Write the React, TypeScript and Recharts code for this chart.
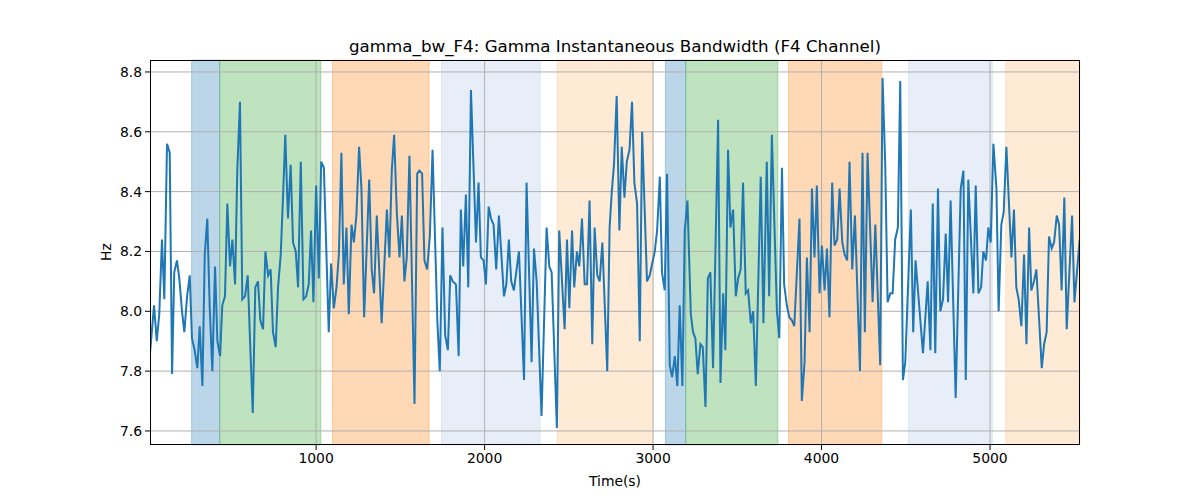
import React from "react";
import {
  LineChart,
  Line,
  XAxis,
  YAxis,
  ReferenceArea,
  ReferenceLine,
} from "recharts";

// sample times (s)
const times = [
  14, 38, 54, 69, 85, 99, 115, 131, 145, 158, 174, 188, 204, 218, 234, 250, 263, 279, 295, 309,
  325, 339, 354, 368, 384, 400, 414, 430, 443, 459, 473, 489, 503, 519, 532, 548, 562, 578, 594, 608,
  624, 639, 655, 669, 685, 699, 715, 730, 744, 760, 774, 790, 804, 817, 833, 849, 863, 879, 893,
  909, 925, 941, 956, 970, 984, 1000, 1016, 1030, 1046, 1075, 1089, 1105, 1121, 1135, 1150, 1164, 1180, 1194, 1210,
  1224, 1239, 1255, 1269, 1285, 1315, 1330, 1344, 1360, 1389, 1420, 1435, 1449, 1463, 1479, 1495, 1509, 1524, 1538, 1554,
  1584, 1600, 1613, 1629, 1643, 1659, 1675, 1691, 1720, 1734, 1750, 1766, 1782, 1796, 1811,
  1830, 1846, 1859, 1873, 1889, 1903, 1919, 1949, 1964, 1978, 1994, 2008, 2024, 2038, 2053, 2069, 2085, 2115, 2129, 2144,
  2158, 2174, 2190, 2204, 2234, 2249, 2279, 2293, 2309, 2338, 2368, 2384, 2398, 2429, 2443, 2475, 2489, 2503, 2519, 2532,
  2548, 2562, 2578, 2594, 2608, 2623, 2639, 2653, 2669, 2683, 2699, 2728, 2742,
  2755, 2768, 2784, 2800, 2814, 2830, 2844, 2860, 2875, 2889, 2905, 2921, 2935, 2964, 2980, 3010, 3024, 3040, 3053, 3069,
  3083, 3099, 3113, 3129, 3144, 3158, 3174, 3188, 3204, 3224, 3237, 3251, 3265, 3281, 3295, 3311, 3325, 3340, 3356, 3386,
  3400, 3416, 3429, 3445, 3459, 3475, 3491, 3505, 3520, 3534, 3550, 3564, 3580, 3594, 3610, 3639, 3655,
  3675, 3689, 3705, 3735, 3749, 3765, 3778, 3794, 3808, 3824, 3838, 3869, 3883, 3899, 3913, 3929, 3943, 3958, 3972, 3988,
  4002, 4018, 4032, 4047, 4063, 4077, 4093, 4107, 4123, 4137, 4152, 4166, 4182, 4198, 4228, 4243, 4257, 4273, 4303, 4319,
  4348, 4362, 4378, 4392, 4408, 4422, 4437, 4453, 4467, 4483, 4497, 4530, 4544, 4558,
  4602, 4630, 4646, 4660, 4675, 4691, 4705, 4721, 4737, 4751, 4766, 4796, 4826, 4842, 4856, 4871, 4901, 4915, 4931, 4947,
  4960, 4976, 4990, 5004, 5020, 5038, 5051, 5067, 5081, 5097, 5127, 5142, 5156, 5170, 5186, 5202, 5216, 5232, 5245, 5261,
  5275, 5307, 5321, 5336, 5350, 5366, 5380, 5396, 5410, 5425, 5441, 5455, 5487, 5501, 5532,
];

// gamma bandwidth (Hz)
const hz = [
  7.86, 8.02, 7.9, 7.99, 8.24, 8.04, 8.56, 8.53, 7.79, 8.13, 8.17, 8.11, 8.0, 7.93, 8.05, 8.12, 7.91, 7.87, 7.81, 7.95,
  7.75, 8.19, 8.31, 8.02, 7.8, 8.15, 7.9, 7.85, 8.02, 8.05, 8.36, 8.15, 8.24, 8.09, 8.47, 8.7, 8.04, 8.05, 8.12, 7.9,
  7.66, 8.08, 8.1, 7.97, 7.94, 8.2, 8.12, 8.14, 7.93, 7.88, 8.08, 8.19, 8.39, 8.59, 8.31, 8.49, 8.23, 8.2, 8.08,
  8.5, 8.04, 8.05, 8.09, 8.27, 8.03, 8.42, 8.11, 8.5, 8.48, 7.93, 8.16, 8.01, 8.08, 8.19, 8.53, 8.09, 8.28, 7.99, 8.29,
  8.23, 8.32, 8.55, 8.41, 7.98, 8.44, 8.14, 8.06, 8.32, 7.96, 8.34, 8.18, 8.47, 8.59, 8.33, 8.18, 8.32, 8.1, 8.18, 8.52,
  7.69, 8.46, 8.47, 8.46, 8.17, 8.14, 8.25, 8.54, 7.96, 7.8, 8.28, 7.92, 7.87, 8.12, 8.1,
  8.09, 7.85, 8.34, 8.15, 8.39, 8.08, 8.74, 8.23, 8.43, 8.18, 8.17, 8.09, 8.35, 8.31, 8.29, 8.14, 8.32, 8.05, 8.09, 8.24,
  8.1, 8.07, 8.14, 8.2, 7.77, 8.43, 7.83, 8.21, 8.1, 7.65, 8.28, 8.15, 8.13, 7.61, 8.27, 7.94, 8.24, 8.01, 8.27, 8.08,
  8.2, 8.15, 8.31, 8.09, 8.09, 8.37, 7.89, 8.28, 8.12, 8.1, 8.23, 7.8, 8.28,
  8.4, 8.49, 8.72, 8.27, 8.55, 8.38, 8.5, 8.54, 8.7, 8.43, 8.36, 7.9, 8.6, 8.1, 8.12, 8.2, 8.27, 8.45, 8.13, 8.07,
  8.46, 7.82, 7.78, 7.85, 7.75, 8.02, 7.75, 8.27, 8.37, 7.99, 7.93, 7.91, 7.79, 7.89, 7.88, 7.68, 8.11, 8.13, 7.81, 8.64,
  7.76, 8.06, 7.87, 8.54, 8.28, 8.34, 8.05, 8.11, 8.14, 8.43, 8.06, 8.07, 7.96, 8.0, 7.75, 8.45, 7.96,
  8.5, 8.05, 8.59, 8.0, 7.91, 8.48, 8.09, 8.02, 7.98, 7.97, 7.95, 8.31, 7.7, 7.83, 8.18, 7.93, 8.41, 8.18, 8.42, 8.06,
  8.22, 8.07, 8.21, 7.98, 8.43, 8.22, 8.24, 8.41, 8.23, 8.19, 8.17, 8.5, 8.14, 8.32, 7.8, 8.53, 7.93, 8.53, 8.03, 8.29,
  7.82, 8.78, 8.49, 8.03, 8.06, 8.06, 8.24, 8.28, 8.77, 7.77, 7.83, 8.34, 7.93, 8.17,
  7.86, 8.1, 7.87, 8.36, 7.86, 8.41, 8.0, 8.04, 8.26, 8.03, 8.37, 7.71, 8.41, 8.47, 7.77, 8.44, 8.06, 8.42, 8.06, 8.08,
  8.2, 8.17, 8.28, 8.23, 8.56, 8.41, 8.0, 8.29, 8.33, 8.55, 8.18, 8.34, 8.08, 8.04, 7.95, 8.19, 7.89, 8.28, 8.07, 8.1,
  8.14, 7.81, 7.89, 7.93, 8.25, 8.21, 8.23, 8.32, 8.29, 8.07, 8.38, 7.94, 8.32, 8.03, 8.24,
];

// shaded segments
const spanStart = [261, 428, 1097, 1744, 2431, 3073, 3194, 3804, 4515, 5093];
const spanEnd = [428, 1028, 1671, 2330, 2998, 3194, 3741, 4358, 5014, 5534];
const spanColor = [
  "#1f77b4", "#2ca02c", "#ff7f0e", "#aec7e8", "#ffbb78",
  "#1f77b4", "#2ca02c", "#ff7f0e", "#aec7e8", "#ffbb78",
];

const xTicks = [1000, 2000, 3000, 4000, 5000];
const yTicks = [7.6, 7.8, 8.0, 8.2, 8.4, 8.6, 8.8];

const data = times.map((t, i) => ({ t, v: hz[i] }));

const tickStyle = { fill: "#000", fontSize: 13.9 };

export default function App() {
  return (
    <div
      style={{
        position: "absolute",
        left: 0,
        top: 0,
        width: 1200,
        height: 500,
        background: "#fff",
        fontFamily: "'DejaVu Sans', sans-serif",
      }}
    >
      <LineChart
        width={1200}
        height={500}
        data={data}
        margin={{ top: 60, right: 120, left: 0, bottom: 0 }}
      >
        {spanStart.map((s, i) => (
          <ReferenceArea
            key={"a" + i}
            x1={s}
            x2={spanEnd[i]}
            fill={spanColor[i]}
            fillOpacity={0.3}
            stroke={spanColor[i]}
            strokeOpacity={0.3}
            strokeWidth={1}
          />
        ))}
        {/* grid sits above the spans, like matplotlib */}
        {xTicks.map((x) => (
          <ReferenceLine key={"gx" + x} x={x} stroke="#b0b0b0" strokeWidth={1} />
        ))}
        {yTicks.map((y) => (
          <ReferenceLine key={"gy" + y} y={y} stroke="#b0b0b0" strokeWidth={1} />
        ))}
        <XAxis
          dataKey="t"
          type="number"
          domain={[14, 5534]}
          allowDataOverflow
          ticks={xTicks}
          height={55}
          tick={tickStyle}
          tickSize={5}
          tickMargin={3}
          tickLine={{ stroke: "#000" }}
          axisLine={false}
        />
        <YAxis
          type="number"
          domain={[7.553, 8.84]}
          allowDataOverflow
          ticks={yTicks}
          width={150}
          tick={tickStyle}
          tickSize={5}
          tickMargin={3}
          tickLine={{ stroke: "#000" }}
          axisLine={false}
          tickFormatter={(v: number) => v.toFixed(1)}
        />
        <Line
          type="linear"
          dataKey="v"
          stroke="#1f77b4"
          strokeWidth={2}
          dot={false}
          isAnimationActive={false}
        />
      </LineChart>
      <div
        style={{
          position: "absolute",
          left: 150,
          top: 60,
          width: 930,
          height: 385,
          border: "1px solid #000",
          boxSizing: "border-box",
          pointerEvents: "none",
        }}
      />
      <div
        style={{
          position: "absolute",
          left: 615,
          top: 46,
          transform: "translate(-50%, -50%)",
          fontSize: 16.7,
          whiteSpace: "nowrap",
        }}
      >
        gamma_bw_F4: Gamma Instantaneous Bandwidth (F4 Channel)
      </div>
      <div
        style={{
          position: "absolute",
          left: 615,
          top: 481,
          transform: "translate(-50%, -50%)",
          fontSize: 13.9,
        }}
      >
        Time(s)
      </div>
      <div
        style={{
          position: "absolute",
          left: 106,
          top: 252,
          transform: "translate(-50%, -50%) rotate(-90deg)",
          fontSize: 13.9,
        }}
      >
        Hz
      </div>
    </div>
  );
}
